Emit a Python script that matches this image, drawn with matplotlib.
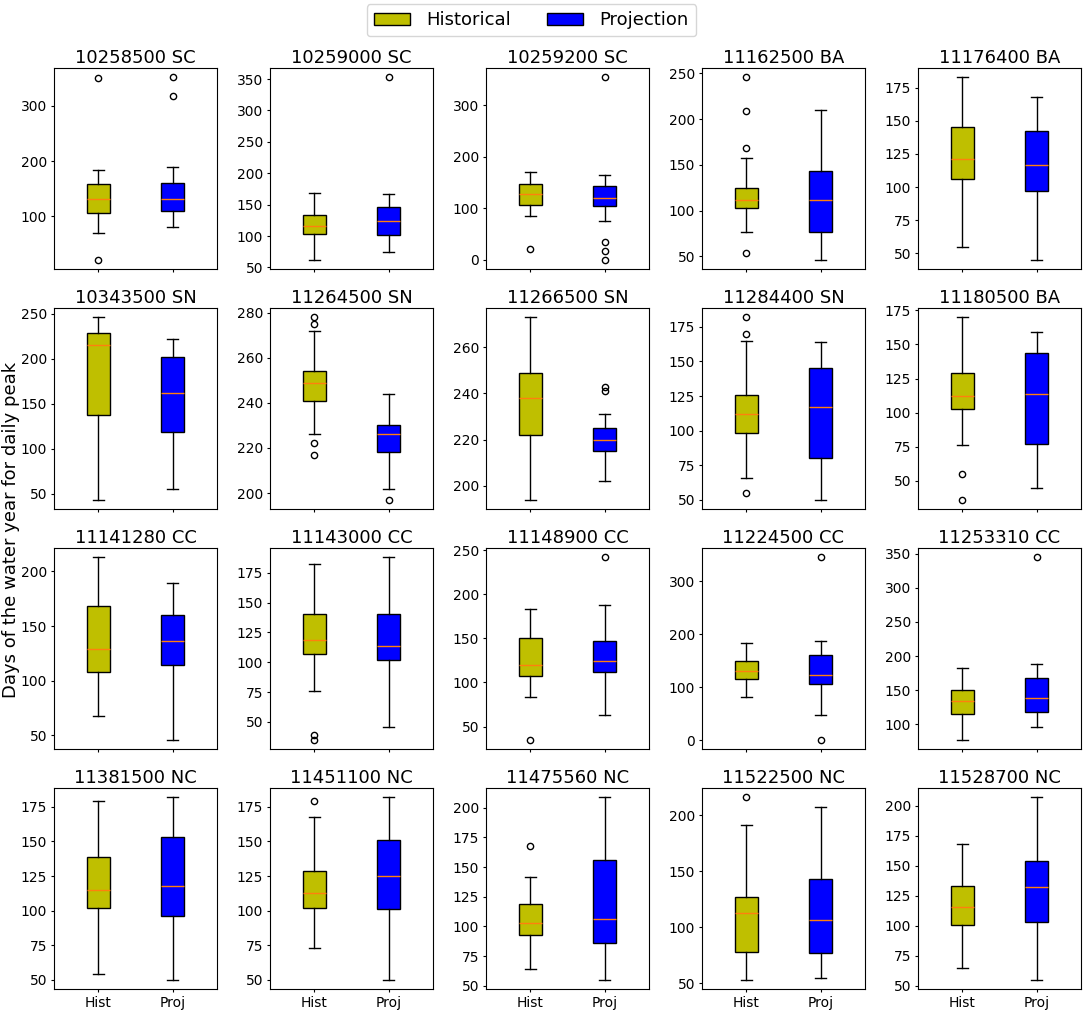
import matplotlib
matplotlib.use("Agg")
import matplotlib.pyplot as plt
from matplotlib.patches import Patch

stations = [
    "10258500 SC", "10259000 SC", "10259200 SC", "11162500 BA", "11176400 BA",
    "10343500 SN", "11264500 SN", "11266500 SN", "11284400 SN", "11180500 BA",
    "11141280 CC", "11143000 CC", "11148900 CC", "11224500 CC", "11253310 CC",
    "11381500 NC", "11451100 NC", "11475560 NC", "11522500 NC", "11528700 NC",
]

# whisker low, q1, median, q3, whisker high
hist_stats = [
    [69, 105, 131, 159, 184], [62, 103, 116, 133, 169], [85, 107, 127, 147, 170], [76, 103, 111, 125, 157], [55, 106, 121, 145, 183],
    [43, 137, 215, 228, 246], [226, 241, 249, 254, 272], [194, 222, 238, 249, 273], [66, 98, 112, 126, 165], [76, 103, 112, 129, 170],
    [68, 108, 129, 168, 213], [76, 107, 119, 140, 182], [84, 107, 120, 150, 183], [81, 116, 131, 149, 184], [77, 115, 134, 150, 182],
    [54, 102, 115, 139, 179], [73, 102, 113, 129, 168], [64, 93, 103, 119, 142], [53, 78, 113, 127, 191], [65, 101, 116, 133, 168],
]
proj_stats = [
    [81, 109, 131, 160, 189], [75, 101, 124, 146, 167], [76, 105, 120, 143, 164], [46, 76, 112, 143, 210], [45, 97, 117, 142, 168],
    [55, 118, 162, 202, 222], [202, 218, 226, 230, 244], [202, 215, 220, 225, 231], [50, 80, 117, 145, 164], [45, 77, 114, 144, 159],
    [46, 114, 136, 160, 189], [46, 102, 114, 140, 188], [63, 112, 124, 147, 188], [47, 106, 124, 160, 188], [96, 118, 139, 168, 188],
    [50, 96, 118, 153, 182], [50, 101, 125, 151, 182], [55, 86, 106, 156, 209], [55, 77, 106, 143, 207], [55, 103, 132, 154, 207],
]
hist_fliers = [
    [21, 350], [], [22], [54, 168, 209, 246], [],
    [], [217, 222, 275, 278], [], [55, 170, 182], [36, 55],
    [], [35, 39], [35], [], [],
    [], [179], [168], [216], [],
]
proj_fliers = [
    [318, 352], [353], [0, 17, 34, 354], [], [],
    [], [197], [241, 243], [], [],
    [], [], [242], [1, 345], [345],
    [], [], [], [], [],
]
tick_labels = ["Hist", "Proj"]
colors = ["y", "b"]

W, H = 1084, 1014
fig, axes = plt.subplots(4, 5, figsize=(W / 100, H / 100), dpi=100, sharex=True)

def to_stats(vals, fliers):
    return dict(whislo=vals[0], q1=vals[1], med=vals[2], q3=vals[3], whishi=vals[4], fliers=fliers)

for i, ax in enumerate(axes.flat):
    row, col = divmod(i, 5)
    ax.set_position([(54 + 216 * col) / W, 1 - (269 + 240 * row) / H, 163 / W, 201 / H])
    stats = [to_stats(hist_stats[i], hist_fliers[i]), to_stats(proj_stats[i], proj_fliers[i])]
    bp = ax.bxp(stats, positions=[1, 2], widths=0.3, patch_artist=True,
                medianprops=dict(color="tab:orange", linewidth=1),
                flierprops=dict(markersize=4.5))
    for box, c in zip(bp["boxes"], colors):
        box.set_facecolor(c)
    ax.set_xlim(0.4, 2.6)
    ax.set_xticks([1, 2])
    ax.set_xticklabels(tick_labels)
    ax.tick_params(axis="both", labelsize=10, length=2.2, pad=2.7)
    ax.set_title(stations[i], fontsize=13, pad=3.5)

fig.text(11 / W, 1 - 530 / H, "Days of the water year for daily peak", rotation=90,
         fontsize=13, ha="center", va="center")

handles = [Patch(facecolor="y", edgecolor="k", label="Historical"),
           Patch(facecolor="b", edgecolor="k", label="Projection")]
fig.legend(handles=handles, loc="upper center", ncol=2, fontsize=13, borderaxespad=0,
           bbox_to_anchor=(531.5 / W, 1 - 4 / H), handletextpad=0.9)

fig.savefig("out.png", dpi=100)
